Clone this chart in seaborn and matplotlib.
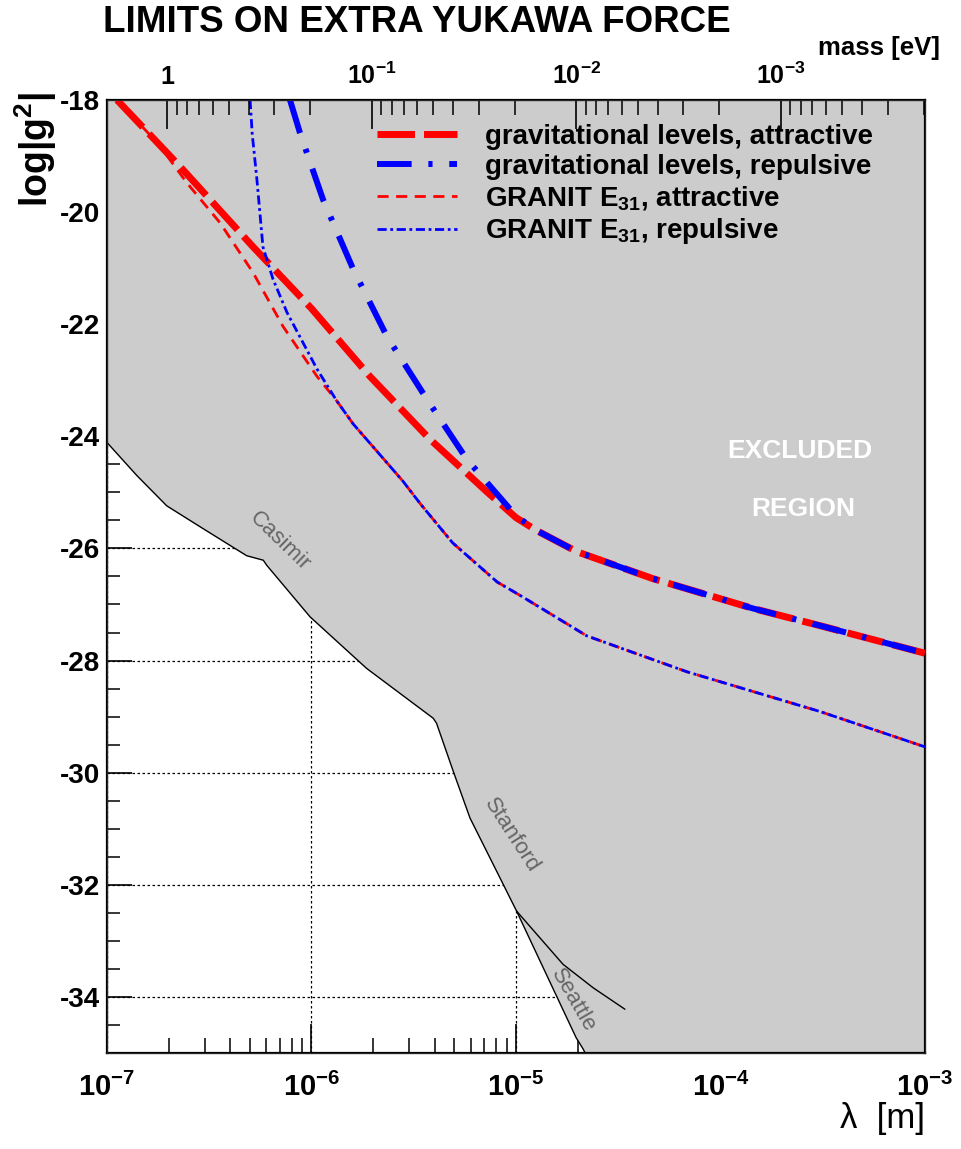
import matplotlib
matplotlib.use("Agg")
import matplotlib.pyplot as plt
import seaborn as sns
from matplotlib.ticker import LogLocator, NullFormatter, MultipleLocator

# ---- data ----
# gravitational levels, attractive
grav_att_lam = [1.12e-7, 2.28e-7, 5.18e-7, 1.0e-6, 1.93e-6, 3.79e-6, 7.21e-6,
                1.0e-5, 1.26e-5, 1.99e-5, 4.68e-5, 1.44e-4, 3.16e-4, 1.0e-3]
grav_att_g = [-18.0, -19.19, -20.62, -21.72, -22.93, -24.05, -24.99,
              -25.45, -25.68, -26.06, -26.54, -27.07, -27.39, -27.87]

# gravitational levels, repulsive
grav_rep_lam = [7.85e-7, 8.79e-7, 1.14e-6, 1.60e-6, 2.34e-6, 3.67e-6, 5.75e-6,
                1.0e-5, 1.26e-5, 1.99e-5, 4.68e-5, 1.44e-4, 3.16e-4, 1.0e-3]
grav_rep_g = [-18.0, -18.59, -19.78, -21.02, -22.22, -23.34, -24.41,
              -25.42, -25.68, -26.06, -26.54, -27.07, -27.39, -27.87]

# GRANIT E31, attractive
granit_att_lam = [1.12e-7, 1.78e-7, 2.46e-7, 3.57e-7, 5.18e-7, 7.26e-7, 1.064e-6,
                  1.33e-6, 1.60e-6, 2.8e-6, 3.4e-6, 4.9e-6, 8.1e-6, 1.05e-5,
                  2.22e-5, 6.85e-5, 3.07e-4, 1.0e-3]
granit_att_g = [-18.0, -18.78, -19.48, -20.19, -21.08, -22.04, -22.93,
                -23.37, -23.78, -24.8, -25.2, -25.9, -26.6, -26.84,
                -27.56, -28.20, -28.91, -29.54]

# GRANIT E31, repulsive
granit_rep_lam = [5.01e-7, 5.13e-7, 5.41e-7, 5.79e-7, 6.49e-7, 7.59e-7, 1.064e-6,
                  1.33e-6, 1.60e-6, 2.8e-6, 3.4e-6, 4.9e-6, 8.1e-6, 1.05e-5,
                  2.22e-5, 6.85e-5, 3.07e-4, 1.0e-3]
granit_rep_g = [-18.0, -18.6, -19.42, -20.62, -21.20, -21.79, -22.80,
                -23.37, -23.78, -24.8, -25.2, -25.9, -26.6, -26.84,
                -27.56, -28.20, -28.91, -29.54]

# lower edge of the excluded region (Casimir -> Stanford -> Seattle)
casimir_lam = [1.0e-7, 1.40e-7, 1.96e-7, 2.96e-7, 4.82e-7, 5.81e-7, 6.04e-7,
               9.84e-7, 1.86e-6, 3.94e-6, 4.09e-6, 4.94e-6, 5.96e-6, 8.36e-6,
               1.007e-5, 1.70e-5, 2.39e-5, 3.41e-5]
casimir_g = [-24.11, -24.70, -25.24, -25.65, -26.13, -26.21, -26.30,
             -27.22, -28.14, -29.03, -29.12, -29.98, -30.81, -31.88,
             -32.47, -33.42, -33.84, -34.22]
seattle_lam = [1.007e-5, 1.97e-5, 2.13e-5, 2.18e-5]
seattle_g = [-32.47, -34.73, -34.93, -35.0]
excl_lam = casimir_lam[:15] + seattle_lam[1:] + [1.0e-3]
excl_g = casimir_g[:15] + seattle_g[1:] + [-35.0]

lam_ticks = [1e-7, 1e-6, 1e-5, 1e-4, 1e-3]
lam_labels = [r"$10^{-7}$", r"$10^{-6}$", r"$10^{-5}$", r"$10^{-4}$", r"$10^{-3}$"]
g_ticks = [-34, -32, -30, -28, -26, -24, -22, -20, -18]
g_labels = ["-34", "-32", "-30", "-28", "-26", "-24", "-22", "-20", "-18"]
mass_ticks = [1, 1e-1, 1e-2, 1e-3]
mass_labels = ["1", r"$10^{-1}$", r"$10^{-2}$", r"$10^{-3}$"]
hbar_c = 1.973e-7  # eV m

sns.set_style("ticks")
plt.rcParams["font.family"] = ["Liberation Sans", "DejaVu Sans"]
plt.rcParams["font.weight"] = "bold"
plt.rcParams["text.color"] = "black"
plt.rcParams["axes.labelcolor"] = "black"
plt.rcParams["xtick.color"] = "black"
plt.rcParams["ytick.color"] = "black"
plt.rcParams["mathtext.fontset"] = "custom"
plt.rcParams["mathtext.rm"] = "Liberation Sans:bold"
plt.rcParams["mathtext.it"] = "Liberation Sans:bold"
plt.rcParams["mathtext.bf"] = "Liberation Sans:bold"
plt.rcParams["mathtext.default"] = "rm"

fig = plt.figure(figsize=(9.62, 11.49), dpi=100)
ax = fig.add_axes([0.1112, 0.0836, 0.8503, 0.8294])
ax.set_xscale("log")
ax.set_xlim(1e-7, 1e-3)
ax.set_ylim(-35, -18)

# dotted grid, only visible in the allowed (white) region
for t in lam_ticks:
    ax.axvline(t, color="black", lw=0.9, ls=(0, (2, 2)), zorder=0.5)
for t in g_ticks:
    ax.axhline(t, color="black", lw=0.9, ls=(0, (2, 2)), zorder=0.5)

ax.fill_between(excl_lam, excl_g, -18, color="#cccccc", lw=0, zorder=1)
ax.plot(casimir_lam, casimir_g, color="black", lw=1.0, zorder=2)
ax.plot(seattle_lam, seattle_g, color="black", lw=1.0, zorder=2)

sns.lineplot(x=grav_att_lam, y=grav_att_g, ax=ax, color="red", lw=5,
             linestyle=(0, (5.4, 1.3)), sort=False, estimator=None,
             label="gravitational levels, attractive", zorder=3)
sns.lineplot(x=grav_rep_lam, y=grav_rep_g, ax=ax, color="blue", lw=4.3,
             linestyle=(0, (5.8, 2.8, 0.7, 2.8)), sort=False, estimator=None,
             label="gravitational levels, repulsive", zorder=3)
sns.lineplot(x=granit_att_lam, y=granit_att_g, ax=ax, color="red", lw=2.0,
             linestyle=(0, (4, 2.7)), sort=False, estimator=None,
             label=r"GRANIT E$_{31}$, attractive", zorder=3)
sns.lineplot(x=granit_rep_lam, y=granit_rep_g, ax=ax, color="blue", lw=2.0,
             linestyle=(0, (3.3, 1.3, 1, 1.3)), sort=False, estimator=None,
             label=r"GRANIT E$_{31}$, repulsive", zorder=3)

# axes, ticks
ax.set_xticks(lam_ticks, labels=lam_labels)
ax.xaxis.set_minor_locator(LogLocator(base=10, subs=range(2, 10)))
ax.xaxis.set_minor_formatter(NullFormatter())
ax.set_yticks(g_ticks, labels=g_labels)
ax.yaxis.set_minor_locator(MultipleLocator(0.5))
ax.tick_params(axis="x", which="major", direction="in", length=21, width=1.2,
               labelsize=21, pad=14, top=False)
ax.tick_params(axis="x", which="minor", direction="in", length=11, width=1.1, top=False)
ax.tick_params(axis="y", which="major", direction="in", length=18, width=1.2,
               labelsize=20, pad=5, left=True, right=True)
ax.tick_params(axis="y", which="minor", direction="in", length=9, width=1.1,
               left=True, right=True)
for s in ax.spines.values():
    s.set_linewidth(1.6)
    s.set_color("black")
ax.set_xlabel(r"λ  [m]", fontsize=25, loc="right", labelpad=0)
ax.set_ylabel("")

# top axis: mass in eV
top = ax.twiny()
top.set_xscale("log")
top.set_xlim(hbar_c / 1e-7, hbar_c / 1e-3)
top.set_xticks(mass_ticks, labels=mass_labels)
top.xaxis.set_minor_locator(LogLocator(base=10, subs=range(2, 10)))
top.xaxis.set_minor_formatter(NullFormatter())
top.tick_params(axis="x", which="major", direction="in", length=21, width=1.2,
                labelsize=18, pad=8)
top.tick_params(axis="x", which="minor", direction="in", length=11, width=1.1)

# annotations
ax.text(7.0e-7, -25.88, "Casimir", rotation=-44, color="#666666", fontsize=16,
        weight="normal", ha="center", va="center", rotation_mode="anchor", zorder=4)
ax.text(9.55e-6, -31.11, "Stanford", rotation=-57, color="#666666", fontsize=16,
        weight="normal", ha="center", va="center", rotation_mode="anchor", zorder=4)
ax.text(1.90e-5, -34.07, "Seattle", rotation=-60, color="#666666", fontsize=16,
        weight="normal", ha="center", va="center", rotation_mode="anchor", zorder=4)
ax.text(2.45e-4, -24.26, "EXCLUDED", color="white", fontsize=19,
        ha="center", va="center", zorder=4)
ax.text(2.53e-4, -25.30, "REGION", color="white", fontsize=19,
        ha="center", va="center", zorder=4)

ax.legend(loc="upper left", bbox_to_anchor=(0.33, 0.975), frameon=False,
          fontsize=20, handlelength=2.9, handletextpad=1.0, labelspacing=0.15,
          borderaxespad=0, borderpad=0)

fig.text(0.4335, 1 - 22 / 1149, "LIMITS ON EXTRA YUKAWA FORCE", fontsize=26.5,
         weight="bold", ha="center", va="center")
fig.text(940 / 962, 1 - 48 / 1149, "mass [eV]", fontsize=18.5, weight="bold",
         ha="right", va="center")
fig.text(36 / 962, 1 - 92 / 1149, r"$log|g^{2}|$", fontsize=27, rotation=90,
         ha="center", va="top")

fig.savefig("out.png", dpi=100)
